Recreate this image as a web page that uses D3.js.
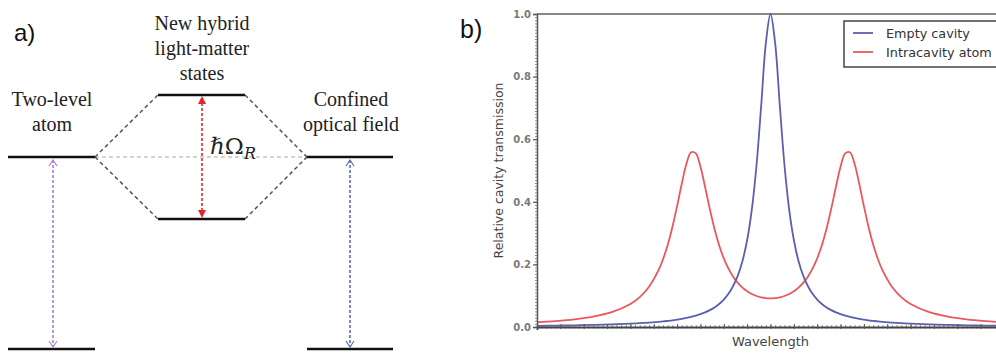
<!DOCTYPE html>
<html>
<head>
<meta charset="utf-8">
<script src="https://cdn.jsdelivr.net/npm/d3@7"></script>
<style>
  html, body { margin: 0; padding: 0; background: #fff; }
  svg { display: block; }
</style>
</head>
<body>
<svg id="fig" width="996" height="354"></svg>
<script>
// ---------------- DATA ----------------
// Panel b: wavelength in arbitrary units (0..100, centre 50)
const wavelength = [0,4,8,12,16,20,22,24,26,27,28,29,30,31,32,33,34,35,36,37,38,39,40,41,42,43,44,45,46,47,48,49,50,
  51,52,53,54,55,56,57,58,59,60,61,62,63,64,65,66,67,68,69,70,71,72,73,74,76,78,80,84,88,92,96,100];
const emptyCavity = [0.0038,0.0045,0.0054,0.0066,0.0082,0.0106,0.0121,0.0140,0.0164,0.0178,0.0195,0.0213,0.0235,0.0259,0.0288,0.0322,0.0362,0.0410,0.0467,0.0538,0.0626,0.0736,0.0877,0.106,0.131,0.164,0.211,0.278,0.375,0.516,0.706,0.906,1.0,
  0.906,0.706,0.516,0.375,0.278,0.211,0.164,0.131,0.106,0.0877,0.0736,0.0626,0.0538,0.0467,0.0410,0.0362,0.0322,0.0288,0.0259,0.0235,0.0213,0.0195,0.0178,0.0164,0.0140,0.0121,0.0106,0.0082,0.0066,0.0054,0.0045,0.0038];
const intracavityAtom = [0.0151,0.0190,0.0245,0.0331,0.0473,0.0735,0.0956,0.1288,0.1806,0.2171,0.2630,0.3196,0.3862,0.4576,0.5213,0.5584,0.5548,0.5123,0.4472,0.3775,0.3142,0.2615,0.2194,0.1864,0.1608,0.1410,0.1258,0.1142,0.1054,0.0991,0.0948,0.0923,0.0915,
  0.0923,0.0948,0.0991,0.1054,0.1142,0.1258,0.1410,0.1608,0.1864,0.2194,0.2615,0.3142,0.3775,0.4472,0.5123,0.5548,0.5584,0.5213,0.4576,0.3862,0.3196,0.2630,0.2171,0.1806,0.1288,0.0956,0.0735,0.0473,0.0331,0.0245,0.0190,0.0151];
const yTicks = [0.0, 0.2, 0.4, 0.6, 0.8, 1.0];
const seriesNames = ["Empty cavity", "Intracavity atom"];
const yLabel = "Relative cavity transmission";
const xLabel = "Wavelength";

// Panel a: energy levels (relative energy; ground 0, excited 1, polariton splitting)
const levelNames = ["Two-level atom", "Confined optical field", "Upper polariton", "Lower polariton"];
const groundEnergy = 0;
const excitedEnergy = 1;
const rabiSplitting = 0.646;
const atomLabel = ["Two-level", "atom"];
const fieldLabel = ["Confined", "optical field"];
const hybridLabel = ["New hybrid", "light-matter", "states"];

// ---------------- DRAW ----------------
const svg = d3.select("#fig");
svg.append("rect").attr("width", 996).attr("height", 354).attr("fill", "#fff");

// ======== Panel a ========
const pa = svg.append("g");
const E = d3.scaleLinear().domain([0, 1]).range([349, 157]);
const colL = [8, 95], colM = [158, 245], colR = [307, 393];
const up = excitedEnergy + rabiSplitting / 2, lo = excitedEnergy - rabiSplitting / 2;

pa.append("text").attr("x", 14).attr("y", 41).text("a)")
  .attr("font-family", "Liberation Sans, Arial, sans-serif").attr("font-size", 24).attr("fill", "#111");

// connectors
const dashG = "4,3";
pa.append("line").attr("x1", colL[1]).attr("x2", colR[0]).attr("y1", E(excitedEnergy)).attr("y2", E(excitedEnergy))
  .attr("stroke", "#aaa").attr("stroke-width", 1.2).attr("stroke-dasharray", "4,3");
[[colL[1], E(excitedEnergy), colM[0], E(up)], [colL[1], E(excitedEnergy), colM[0], E(lo)],
 [colM[1], E(up), colR[0], E(excitedEnergy)], [colM[1], E(lo), colR[0], E(excitedEnergy)]].forEach(s => {
  pa.append("line").attr("x1", s[0]).attr("y1", s[1]).attr("x2", s[2]).attr("y2", s[3])
    .attr("stroke", "#555").attr("stroke-width", 1.5).attr("stroke-dasharray", dashG);
});

// levels
function level(c, e) {
  pa.append("line").attr("x1", c[0]).attr("x2", c[1]).attr("y1", E(e)).attr("y2", E(e))
    .attr("stroke", "#111").attr("stroke-width", 2.4);
}
level(colL, excitedEnergy); level(colL, groundEnergy);
level(colR, excitedEnergy); level(colR, groundEnergy);
level(colM, up); level(colM, lo);

// vertical dashed arrows
function openArrow(x, yTip, dir, color) { // dir: -1 up, +1 down
  pa.append("path").attr("d", `M${x-4},${yTip - dir*6} L${x},${yTip} L${x+4},${yTip - dir*6}`)
    .attr("fill", "none").attr("stroke", color).attr("stroke-width", 1.2);
}
function vArrow(x, y1, y2, color) {
  pa.append("line").attr("x1", x).attr("x2", x).attr("y1", y1).attr("y2", y2)
    .attr("stroke", color).attr("stroke-width", 1.6).attr("stroke-dasharray", "3,2");
}
const purple = "#a97fcb", blueA = "#5c6db4", redA = "#e8262a";
vArrow(53, E(excitedEnergy) + 3, E(groundEnergy) - 3, purple);
openArrow(53, E(excitedEnergy) + 3, -1, purple);
openArrow(53, E(groundEnergy) - 2, 1, purple);
vArrow(350, E(excitedEnergy) + 3, E(groundEnergy) - 3, blueA);
openArrow(350, E(excitedEnergy) + 3, -1, blueA);
openArrow(350, E(groundEnergy) - 2, 1, blueA);

vArrow(202, E(up) + 8, E(lo) - 8, redA);
pa.append("path").attr("d", `M198,${E(up)+9} L202,${E(up)+1} L206,${E(up)+9} Z`).attr("fill", redA);
pa.append("path").attr("d", `M198,${E(lo)-9} L202,${E(lo)-1} L206,${E(lo)-9} Z`).attr("fill", redA);

// texts
const serif = "Liberation Serif, Times New Roman, serif";
function lines(arr, x, y0, dy) {
  arr.forEach((t, i) => pa.append("text").attr("x", x).attr("y", y0 + i * dy).text(t)
    .attr("text-anchor", "middle").attr("font-family", serif).attr("font-size", 20).attr("fill", "#222"));
}
lines(hybridLabel, 202, 30, 25);
lines(atomLabel, 52, 106, 25);
lines(fieldLabel, 351, 106, 25);

const rabi = pa.append("text").attr("x", 210).attr("y", 154).attr("font-family", "DejaVu Serif, Liberation Serif, serif")
  .attr("font-size", 23).attr("fill", "#222");
rabi.append("tspan").attr("font-style", "italic").text("ℏ");
rabi.append("tspan").text("Ω");
rabi.append("tspan").attr("font-style", "italic").attr("font-size", 16).attr("dy", 5).text("R");

// ======== Panel b ========
svg.append("text").attr("x", 460).attr("y", 38).text("b)")
  .attr("font-family", "Liberation Sans, Arial, sans-serif").attr("font-size", 25).attr("fill", "#111");

const x = d3.scaleLinear().domain([0, 100]).range([537, 1004]);
const y = d3.scaleLinear().domain([0, 1]).range([327, 14]);
const pb = svg.append("g");

// frame
pb.append("line").attr("x1", x(0)).attr("x2", x(100)).attr("y1", y(1)).attr("y2", y(1))
  .attr("stroke", "#888").attr("stroke-width", 2);
pb.append("line").attr("x1", x(100)).attr("x2", x(100)).attr("y1", y(1)).attr("y2", y(0))
  .attr("stroke", "#555").attr("stroke-width", 1.5);

const line = d3.line().x((d, i) => x(wavelength[i])).y(d => y(d)).curve(d3.curveCatmullRom.alpha(0.5));
pb.append("path").datum(intracavityAtom).attr("d", line).attr("fill", "none")
  .attr("stroke", "#e8585c").attr("stroke-width", 1.8);
pb.append("path").datum(emptyCavity).attr("d", line).attr("fill", "none")
  .attr("stroke", "#5b5fae").attr("stroke-width", 1.8);

// y axis
const yMinor = pb.append("g").attr("transform", `translate(${x(0)},0)`)
  .call(d3.axisLeft(y).tickValues(d3.range(0, 101).map(v => v / 100)).tickSize(2).tickFormat(""));
yMinor.select(".domain").remove();
yMinor.selectAll("line").attr("stroke", "#777").attr("x2", -2).attr("x1", 1).attr("stroke-width", 0.8);

const yAx = pb.append("g").attr("transform", `translate(${x(0)},0)`)
  .call(d3.axisLeft(y).tickValues(yTicks).tickSize(4).tickPadding(2).tickFormat(d3.format(".1f")));
yAx.select(".domain").attr("stroke", "#555").attr("stroke-width", 1.5);
yAx.selectAll("line").attr("stroke", "#555").attr("stroke-width", 1.2);
yAx.selectAll("text").attr("font-family", "DejaVu Sans, sans-serif").attr("font-size", 10)
  .attr("font-weight", "bold").attr("fill", "#7a7a7a");

// x axis
const xMinor = pb.append("g").attr("transform", `translate(0,${y(0)})`)
  .call(d3.axisBottom(x).tickValues(d3.range(0, 101)).tickSize(2).tickFormat(""));
xMinor.select(".domain").remove();
xMinor.selectAll("line").attr("stroke", "#777").attr("y1", -2).attr("y2", 1.5).attr("stroke-width", 0.8);
const xAx = pb.append("g").attr("transform", `translate(0,${y(0)})`)
  .call(d3.axisBottom(x).tickValues(d3.range(0, 101, 5)).tickSize(3).tickFormat(""));
xAx.select(".domain").attr("stroke", "#444").attr("stroke-width", 1.8);
xAx.selectAll("line").attr("stroke", "#555").attr("y1", -3).attr("y2", 2);

// axis labels
pb.append("text").attr("transform", `translate(503,${(y(0) + y(1)) / 2}) rotate(-90)`)
  .attr("text-anchor", "middle").text(yLabel)
  .attr("font-family", "DejaVu Sans, sans-serif").attr("font-size", 12.5).attr("fill", "#444");
pb.append("text").attr("x", x(50)).attr("y", 346).attr("text-anchor", "middle").text(xLabel)
  .attr("font-family", "DejaVu Sans, sans-serif").attr("font-size", 13).attr("fill", "#444");

// legend
const lg = pb.append("g");
lg.append("rect").attr("x", 844).attr("y", 21).attr("width", 160).attr("height", 46)
  .attr("fill", "#fff").attr("stroke", "#444").attr("stroke-width", 1.5);
const legColors = ["#5b5fae", "#e8585c"];
seriesNames.forEach((n, i) => {
  const yy = 33 + i * 19;
  lg.append("line").attr("x1", 853).attr("x2", 873).attr("y1", yy).attr("y2", yy)
    .attr("stroke", legColors[i]).attr("stroke-width", 1.8);
  lg.append("text").attr("x", 886).attr("y", yy + 4.5).text(n)
    .attr("font-family", "DejaVu Sans, sans-serif").attr("font-size", 12.8).attr("fill", "#333");
});
</script>
</body>
</html>
